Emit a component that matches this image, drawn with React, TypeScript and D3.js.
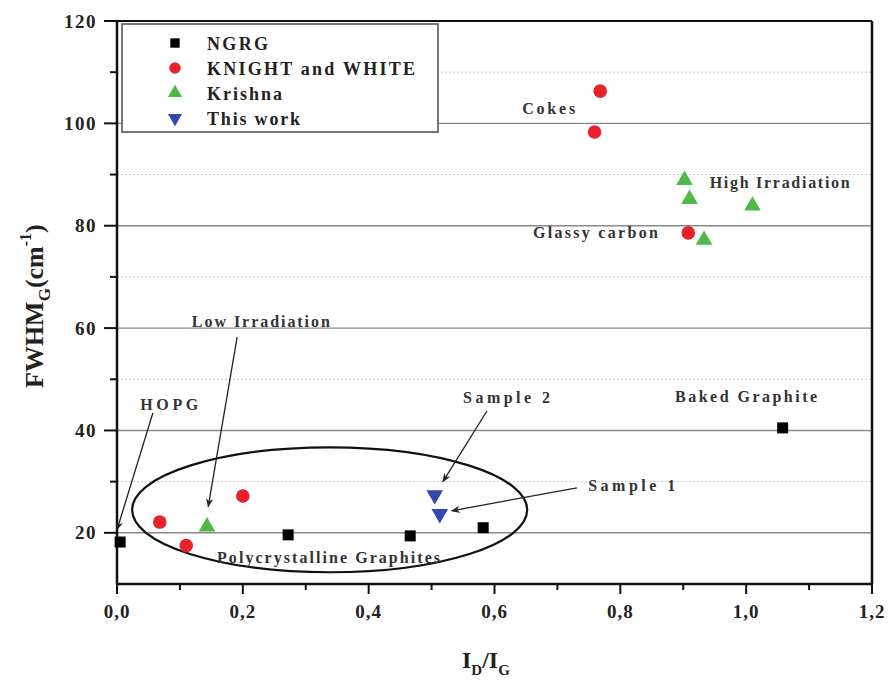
import React from 'react';
import * as d3 from 'd3';

// values: I_D/I_G vs FWHM_G (cm^-1)
const ngrgX = [0.005, 0.272, 0.466, 0.582, 1.058];
const ngrgY = [18.2, 19.6, 19.4, 21.0, 40.5];
const knightX = [0.068, 0.11, 0.2, 0.768, 0.759, 0.908];
const knightY = [22.1, 17.5, 27.2, 106.3, 98.3, 78.6];
const krishnaX = [0.143, 0.902, 0.91, 1.01, 0.933];
const krishnaY = [21.2, 88.9, 85.2, 83.9, 77.2];
const thisWorkX = [0.505, 0.513];
const thisWorkY = [27.4, 23.7];

const seriesNames = ['NGRG', 'KNIGHT and WHITE', 'Krishna', 'This work'];
const xTicks = [0, 0.2, 0.4, 0.6, 0.8, 1.0, 1.2];
const yTicks = [20, 40, 60, 80, 100, 120];

// annotation labels (data coords of text start / baseline)
const noteText = ['Cokes', 'High Irradiation', 'Glassy carbon', 'Low Irradiation', 'HOPG', 'Sample 2', 'Baked Graphite', 'Sample 1', 'Polycrystalline Graphites'];
const noteX = [0.644, 0.942, 0.661, 0.119, 0.037, 0.55, 0.887, 0.749, 0.159];
const noteY = [101.8, 87.4, 77.6, 60.2, 44.0, 45.4, 45.6, 28.2, 14.1];

// arrows: from (x1,y1) to (x2,y2) in data units
const arrowFrom = [[0.057, 43.4], [0.191, 58.3], [0.588, 43.8], [0.731, 28.8]];
const arrowTo = [[0.0, 20.6], [0.145, 25.1], [0.518, 30.0], [0.532, 24.3]];

const W = 888, H = 681;
const x = d3.scaleLinear().domain([0, 1.2]).range([117, 872]);
const y = d3.scaleLinear().domain([10, 120]).range([584, 21]);

const RED = '#e8222a', GREEN = '#4fb848', BLUE = '#3347ad';
const FONT = '"Liberation Serif", "Times New Roman", serif';

function Marker({ kind, cx, cy, s = 1 }: { kind: number; cx: number; cy: number; s?: number }) {
  if (kind === 0) return <rect x={cx - 5.5 * s} y={cy - 5.5 * s} width={11 * s} height={11 * s} fill="#000" />;
  if (kind === 1) return <circle cx={cx} cy={cy} r={6.8 * s} fill={RED} />;
  if (kind === 2) {
    const sym = d3.symbol(d3.symbolTriangle, 120 * s * s)();
    return <path d={sym!} transform={`translate(${cx},${cy})`} fill={GREEN} />;
  }
  const sym = d3.symbol(d3.symbolTriangle, 120 * s * s)();
  return <path d={sym!} transform={`translate(${cx},${cy}) rotate(180)`} fill={BLUE} />;
}

export default function App() {
  const series = [
    { xs: ngrgX, ys: ngrgY },
    { xs: knightX, ys: knightY },
    { xs: krishnaX, ys: krishnaY },
    { xs: thisWorkX, ys: thisWorkY },
  ];
  const minorY = d3.range(30, 120, 20);
  const minorX = d3.range(0.1, 1.2, 0.2);
  const noteWidth = [53, 140, 125, 138, 58, 87, 142, 87, 223];
  const legendWidth = [61, 208, 75, 93];

  return (
    <div style={{ position: 'absolute', left: 0, top: 0 }}>
      <svg width={W} height={H} style={{ display: 'block', background: '#fff' }} fontFamily={FONT}>
        <defs>
          <marker id="ah" viewBox="0 0 10 10" refX="9" refY="5" markerWidth="7" markerHeight="7" orient="auto-start-reverse">
            <path d="M0,1 L10,5 L0,9 L3,5 Z" fill="#222" />
          </marker>
        </defs>

        {/* grid */}
        {minorY.map((v) => (
          <line key={'my' + v} x1={x(0)} x2={x(1.2)} y1={y(v)} y2={y(v)} stroke="#c8c8c8" strokeWidth={1} strokeDasharray="2,2" />
        ))}
        {yTicks.slice(0, -1).map((v) => (
          <line key={'gy' + v} x1={x(0)} x2={x(1.2)} y1={y(v)} y2={y(v)} stroke="#8a8a8a" strokeWidth={1.4} />
        ))}

        {/* ellipse */}
        <ellipse cx={x(0.338)} cy={y(24.5)} rx={x(0.314) - x(0)} ry={y(10) - y(22.2)} fill="none" stroke="#111" strokeWidth={2.2} />

        {/* frame */}
        <line x1={x(0)} x2={x(1.2)} y1={y(120)} y2={y(120)} stroke="#111" strokeWidth={2} />
        <line x1={x(1.2)} x2={x(1.2)} y1={y(120)} y2={y(10)} stroke="#111" strokeWidth={2.5} />
        <line x1={x(0)} x2={x(1.2)} y1={y(10)} y2={y(10)} stroke="#111" strokeWidth={2.5} />
        <line x1={x(0)} x2={x(0)} y1={y(120)} y2={y(10)} stroke="#111" strokeWidth={2.5} />

        {/* y ticks */}
        {yTicks.map((v) => (
          <g key={'yt' + v}>
            <line x1={x(0) - 13} x2={x(0)} y1={y(v)} y2={y(v)} stroke="#111" strokeWidth={2} />
            <text x={97} y={y(v) + 6.5} textAnchor="end" fontSize={19} fontWeight="bold" letterSpacing={1.5} fill="#222">{v}</text>
          </g>
        ))}
        {minorY.map((v) => (
          <line key={'ymt' + v} x1={x(0) - 7} x2={x(0)} y1={y(v)} y2={y(v)} stroke="#111" strokeWidth={2} />
        ))}

        {/* x ticks */}
        {xTicks.map((v) => (
          <g key={'xt' + v}>
            <line x1={x(v)} x2={x(v)} y1={y(10)} y2={y(10) + 10} stroke="#111" strokeWidth={2} />
            <text x={x(v)} y={618} textAnchor="middle" fontSize={19} fontWeight="bold" letterSpacing={1} fill="#222">
              {d3.format('.1f')(v).replace('.', ',')}
            </text>
          </g>
        ))}
        {minorX.map((v) => (
          <line key={'xmt' + v} x1={x(v)} x2={x(v)} y1={y(10)} y2={y(10) + 6} stroke="#111" strokeWidth={2} />
        ))}

        {/* axis titles */}
        <text x={462} y={668} fontSize={24} fontWeight="bold" fill="#222">
          I<tspan fontSize={15} dy={7}>D</tspan><tspan dy={-7}>/I</tspan><tspan fontSize={15} dy={7}>G</tspan>
        </text>
        <text transform="translate(43,388) rotate(-90)" fontSize={26} fontWeight="bold" fill="#222">
          FWHM<tspan fontSize={17} dy={7}>G</tspan><tspan dy={-7}>(cm</tspan><tspan fontSize={16} dy={-12}>-1</tspan><tspan dy={12}>)</tspan>
        </text>

        {/* arrows */}
        {arrowFrom.map((f, i) => (
          <line key={'ar' + i} x1={x(f[0])} y1={y(f[1])} x2={x(arrowTo[i][0])} y2={y(arrowTo[i][1])} stroke="#222" strokeWidth={1.3} markerEnd="url(#ah)" />
        ))}

        {/* points */}
        {series.map((s, k) =>
          s.xs.map((v, i) => <Marker key={k + '-' + i} kind={k} cx={x(v)} cy={y(s.ys[i])} />)
        )}

        {/* annotations */}
        {noteText.map((t, i) => (
          <text key={'n' + i} x={x(noteX[i])} y={y(noteY[i])} fontSize={16} fontWeight="bold" fill="#333" textLength={noteWidth[i]} lengthAdjust="spacing">{t}</text>
        ))}

        {/* legend */}
        <rect x={122} y={24} width={316} height={108} fill="#fff" stroke="#777" strokeWidth={2} />
        {seriesNames.map((n, i) => (
          <g key={'lg' + i}>
            <Marker kind={i} cx={175} cy={43 + i * 25} s={0.85} />
            <text x={207} y={49.5 + i * 25} fontSize={18} fontWeight="bold" fill="#222" textLength={legendWidth[i]} lengthAdjust="spacing">{n}</text>
          </g>
        ))}
      </svg>
    </div>
  );
}
